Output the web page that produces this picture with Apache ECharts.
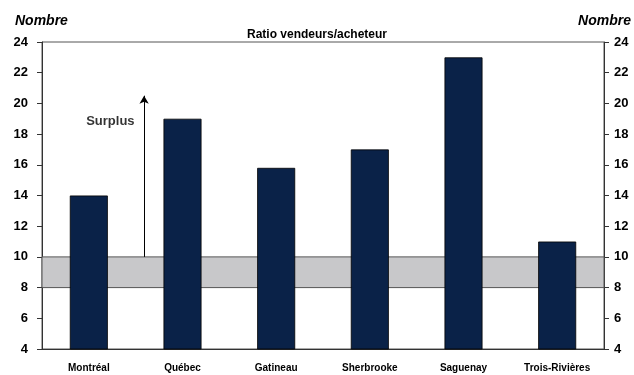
<!DOCTYPE html>
<html><head><meta charset="utf-8">
<script src="https://cdn.jsdelivr.net/npm/echarts@6/dist/echarts.min.js"></script>
<style>html,body{margin:0;padding:0;background:#fff}#c{width:634px;height:375px}</style>
</head><body><div id="c"></div>
<script>
const categories = ['Montréal','Québec','Gatineau','Sherbrooke','Saguenay','Trois-Rivières'];
const ratios = [14, 19, 15.8, 17, 23, 11];
const bandRange = [8, 10];
const arrowX = 1.09;
const arrowRange = [10, 20.5];
const surplusPos = [0.73, 18.85];

const chart = echarts.init(document.getElementById('c'));
const F = '"Liberation Sans", Arial, sans-serif';
function yAx(pos, margin){
  return {
    type:'value', min:4, max:24, interval:2, position:pos,
    axisLine:{show:true, lineStyle:{color:'#333', width:1}},
    axisTick:{show:true, length:5, lineStyle:{color:'#333'}},
    splitLine:{show:false},
    axisLabel:{color:'#000', fontWeight:'bold', fontSize:13, fontFamily:F, margin:margin}
  };
}
chart.setOption({
  animation:false,
  textStyle:{fontFamily:F},
  grid:{left:42, right:30, top:42, bottom:26, show:true, borderColor:'#555', borderWidth:1},
  title:[
    {text:'Ratio vendeurs/acheteur', left:'center', top:24, textStyle:{fontSize:12, fontWeight:'bold', color:'#000', fontFamily:F}},
    {text:'Nombre', left:10, top:9, textStyle:{fontSize:14, fontWeight:'bold', fontStyle:'italic', color:'#000', fontFamily:F}},
    {text:'Nombre', right:-2, top:9, textStyle:{fontSize:14, fontWeight:'bold', fontStyle:'italic', color:'#000', fontFamily:F}}
  ],
  xAxis:[
    {type:'category', data:categories,
     axisLine:{show:true, lineStyle:{color:'#333'}}, axisTick:{show:false},
     axisLabel:{color:'#000', fontWeight:'bold', fontSize:10, fontFamily:F, margin:14}},
    {type:'value', min:0, max:6, show:false}
  ],
  yAxis:[ yAx('left', 14), yAx('right', 10) ],
  series:[
    {type:'bar', data:ratios, barWidth:38, z:3,
     itemStyle:{color:'#0a2248', borderColor:'#000', borderWidth:0.8},
     markArea:{silent:true, z:1,
       itemStyle:{color:'#c8c8ca', borderColor:'#555', borderWidth:1},
       data:[[{yAxis:bandRange[0]},{yAxis:bandRange[1]}]]}},
    {type:'scatter', xAxisIndex:1, yAxisIndex:0, symbolSize:0, data:[[surplusPos[0], surplusPos[1]]],
     label:{show:true, formatter:'Surplus', position:'inside', color:'#000', fontWeight:'bold', fontSize:13, fontFamily:F},
     markLine:{silent:true, symbol:['none','arrow'], symbolSize:[7,8], label:{show:false},
       lineStyle:{color:'#000', width:1, type:'solid'},
       data:[[{coord:[arrowX, arrowRange[0]]},{coord:[arrowX, arrowRange[1]]}]]}}
  ]
});
</script></body></html>
